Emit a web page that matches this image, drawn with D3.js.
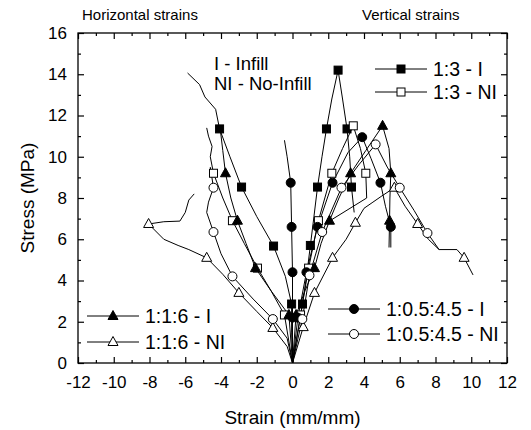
<!DOCTYPE html>
<html><head><meta charset="utf-8">
<script src="https://cdn.jsdelivr.net/npm/d3@7"></script>
<style>body{margin:0;background:#fff}svg{display:block}text{font-family:"Liberation Sans",Arial,sans-serif}</style>
</head><body><svg id="c" width="531" height="430"></svg>
<script>
// ---- data ----
const xTicks = [-12,-10,-8,-6,-4,-2,0,2,4,6,8,10,12];
const yTicks = [0,2,4,6,8,10,12,14,16];
const seriesNames = ["1:3 - I","1:3 - NI","1:1:6 - I","1:1:6 - NI","1:0.5:4.5 - I","1:0.5:4.5 - NI"];
const seriesSymbols = ["square","square","triangle","triangle","circle","circle"];
const seriesFilled = [true,false,true,false,true,false];

// curves: horizontal (negative strain) and vertical (positive strain) branches
const s13I_H = [[0,0],[-0.05,1.5],[-0.05,2.86],[-0.4,4.2],[-1.06,5.67],[-2.0,7.1],[-2.85,8.53],[-3.5,10],[-4.08,11.35],[-4.3,12.3],[-4.9,12.9],[-5.2,13.5],[-5.87,14.06]];
const s13I_V = [[0,0],[0.3,1.5],[0.56,2.86],[0.8,4.3],[1.0,5.7],[1.2,7.1],[1.4,8.53],[1.65,10],[1.9,11.35],[2.2,12.8],[2.55,14.2],[2.8,12.8],[3.05,11.35],[3.2,10],[3.3,8.53],[3.45,7.3]];
const s13I_M = [[-0.05,2.86],[-1.06,5.67],[-2.85,8.53],[-4.08,11.35],[0.56,2.86],[1.0,5.7],[1.4,8.53],[1.9,11.35],[2.55,14.2],[3.05,11.35],[3.3,8.53]];

const s13NI_H = [[0,0],[-0.45,2.33],[-1.2,3.5],[-1.96,4.6],[-2.7,5.8],[-3.36,6.9],[-3.9,8.0],[-4.42,9.2],[-4.6,10],[-4.5,10.5],[-4.7,11.0],[-4.8,11.4]];
const s13NI_V = [[0,0],[0.45,2.33],[0.9,4.6],[1.45,6.9],[2.2,9.2],[2.8,10.4],[3.4,11.5],[3.8,10.4],[4.1,9.2],[4.15,8.0],[2.1,6.9]];
const s13NI_M = [[-0.45,2.33],[-1.96,4.6],[-3.36,6.9],[-4.42,9.2],[0.45,2.33],[0.9,4.6],[1.45,6.9],[2.2,9.2],[3.4,11.5],[4.1,9.2]];

const s116I_H = [[0,0],[-0.2,2.33],[-1.2,3.5],[-2.07,4.6],[-2.6,5.8],[-3.08,6.9],[-3.45,8.0],[-3.75,9.2],[-3.9,10.3],[-4.05,11.4]];
const s116I_V = [[0,0],[0.2,2.33],[0.7,3.5],[1.23,4.6],[1.6,5.8],[2.07,6.9],[2.6,8.0],[3.25,9.2],[4.1,10.3],[5.04,11.5],[5.4,10.4],[5.5,9.2],[5.45,8.0],[5.43,6.9],[5.4,5.6]];
const s116I_M = [[-0.2,2.33],[-2.07,4.6],[-3.08,6.9],[-3.75,9.2],[0.2,2.33],[1.23,4.6],[2.07,6.9],[3.25,9.2],[5.04,11.5],[5.5,9.2],[5.43,6.9]];

const s116NI_H = [[0,0],[-0.3,0.8],[-1.1,1.7],[-2.0,2.5],[-3.0,3.4],[-3.9,4.3],[-4.8,5.1],[-5.8,5.5],[-6.4,5.7],[-7.2,6.0],[-8.05,6.74],[-7.2,6.85],[-6.3,6.88],[-6.0,7.3],[-5.8,7.9],[-5.5,8.2]];
const s116NI_V = [[0,0],[0.6,1.74],[1.23,3.4],[2.24,5.1],[3.0,6.0],[3.52,6.8],[4.0,7.5],[4.5,7.8],[5.0,8.1],[5.7,8.5],[6.3,7.6],[7.0,6.74],[7.6,6.0],[8.2,5.5],[9.2,5.5],[9.6,5.1],[10.1,4.27]];
const s116NI_M = [[-1.1,1.7],[-3.0,3.4],[-4.8,5.1],[-8.05,6.74],[0.6,1.74],[1.23,3.4],[2.24,5.1],[3.52,6.8],[5.7,8.5],[7.0,6.74],[9.6,5.1]];

const s105I_H = [[0,0],[0,2.2],[0,4.4],[-0.05,6.6],[-0.1,8.74],[-0.3,10],[-0.45,10.8]];
const s105I_V = [[0,0],[0.3,2.2],[0.78,4.4],[1.4,6.6],[2.24,8.74],[3.1,10.2],[3.9,10.95],[4.4,9.9],[4.92,8.74],[5.2,7.6],[5.5,6.6],[5.5,5.6]];
const s105I_M = [[0,2.2],[0,4.4],[-0.05,6.6],[-0.1,8.74],[0.3,2.2],[0.78,4.4],[1.4,6.6],[2.24,8.74],[3.9,10.95],[4.92,8.74],[5.5,6.6]];

const s105NI_H = [[0,0],[-0.3,1.2],[-1.1,2.13],[-2.2,3.1],[-3.36,4.2],[-4.0,5.3],[-4.42,6.35],[-4.8,7.3],[-4.7,7.8],[-4.42,8.5],[-4.6,9.5]];
const s105NI_V = [[0,0],[0.55,2.13],[0.95,4.25],[1.66,6.35],[2.74,8.5],[3.7,9.6],[4.65,10.6],[5.3,9.5],[6.0,8.5],[6.8,7.4],[7.55,6.3],[8.2,5.5]];
const s105NI_M = [[-1.1,2.13],[-3.36,4.2],[-4.42,6.35],[-4.42,8.5],[0.55,2.13],[0.95,4.25],[1.66,6.35],[2.74,8.5],[4.65,10.6],[6.0,8.5],[7.55,6.3]];

const curves = [[s13I_H,s13I_V],[s13NI_H,s13NI_V],[s116I_H,s116I_V],[s116NI_H,s116NI_V],[s105I_H,s105I_V],[s105NI_H,s105NI_V]];
const markers = [s13I_M,s13NI_M,s116I_M,s116NI_M,s105I_M,s105NI_M];

// ---- chart ----
const svg = d3.select("#c");
const L=78,R=507,T=33,B=363;
const x = d3.scaleLinear().domain([-12,12]).range([L,R]);
const y = d3.scaleLinear().domain([0,16]).range([B,T]);
const F='"Liberation Sans",Arial,sans-serif';
const fmt = d=>String(d);

const line = d3.line().x(d=>x(d[0])).y(d=>y(d[1]));
const g = svg.append("g");

function sym(sel, type, filled, cx, cy){
  let s;
  if(type==="square") s = sel.append("rect").attr("x",cx-4).attr("y",cy-4).attr("width",8).attr("height",8);
  else if(type==="circle") s = sel.append("circle").attr("cx",cx).attr("cy",cy).attr("r",4.5);
  else s = sel.append("path").attr("d",`M${cx},${cy-5.5}L${cx+5},${cy+3.5}L${cx-5},${cy+3.5}Z`);
  s.attr("fill",filled?"#000":"#fff").attr("stroke","#000").attr("stroke-width",1);
}

curves.forEach((cs,i)=>{
  cs.forEach(c=>g.append("path").attr("d",line(c)).attr("fill","none").attr("stroke","#000").attr("stroke-width",1));
});
markers.forEach((ms,i)=>{
  ms.forEach(m=>sym(g,seriesSymbols[i],seriesFilled[i],x(m[0]),y(m[1])));
});

// frame & axes (ticks inward)
svg.append("rect").attr("x",L).attr("y",T).attr("width",R-L).attr("height",B-T).attr("fill","none").attr("stroke","#000").attr("stroke-width",1.3);
const xb = svg.append("g").attr("transform",`translate(0,${B})`).call(d3.axisBottom(x).tickValues(xTicks).tickSize(-6).tickFormat(fmt));
svg.append("g").attr("transform",`translate(0,${B})`).call(d3.axisBottom(x).tickValues(d3.range(-11,12,2)).tickSize(-3).tickFormat(""));
svg.append("g").attr("transform",`translate(0,${T})`).call(d3.axisTop(x).tickValues(xTicks).tickSize(-6).tickFormat(""));
svg.append("g").attr("transform",`translate(0,${T})`).call(d3.axisTop(x).tickValues(d3.range(-11,12,2)).tickSize(-3).tickFormat(""));
const yl = svg.append("g").attr("transform",`translate(${L},0)`).call(d3.axisLeft(y).tickValues(yTicks).tickSize(-6).tickFormat(fmt));
svg.append("g").attr("transform",`translate(${L},0)`).call(d3.axisLeft(y).tickValues(d3.range(1,16,2)).tickSize(-3).tickFormat(""));
svg.append("g").attr("transform",`translate(${R},0)`).call(d3.axisRight(y).tickValues(yTicks).tickSize(-6).tickFormat(""));
svg.append("g").attr("transform",`translate(${R},0)`).call(d3.axisRight(y).tickValues(d3.range(1,16,2)).tickSize(-3).tickFormat(""));
svg.selectAll(".domain").remove();
svg.selectAll(".tick line").attr("stroke","#000").attr("stroke-width",1.2);
xb.selectAll("text").attr("font-family",F).attr("font-size",17).attr("fill","#000").attr("dy","0.71em").attr("y",13);
yl.selectAll("text").attr("font-family",F).attr("font-size",17).attr("fill","#000").attr("x",-11);

// labels
svg.append("text").attr("x",x(0)).attr("y",424).attr("text-anchor","middle").attr("font-size",19).text("Strain (mm/mm)");
svg.append("text").attr("transform",`translate(34,${(T+B)/2}) rotate(-90)`).attr("text-anchor","middle").attr("font-size",19).text("Stress (MPa)");
svg.append("text").attr("x",82).attr("y",20).attr("font-size",15).text("Horizontal strains");
svg.append("text").attr("x",362).attr("y",20).attr("font-size",15).text("Vertical strains");
svg.append("text").attr("x",214).attr("y",64).attr("dy","0.35em").attr("font-size",18.5).text("I - Infill");
svg.append("text").attr("x",214).attr("y",84).attr("dy","0.35em").attr("font-size",18.5).text("NI - No-Infill");

// legends
const legPos = [[375,69],[375,92],[87,316],[87,342],[328,309],[328,334]];
seriesNames.forEach((n,i)=>{
  const [lx,ly]=legPos[i];
  svg.append("line").attr("x1",lx).attr("x2",lx+52).attr("y1",ly).attr("y2",ly).attr("stroke","#000");
  sym(svg,seriesSymbols[i],seriesFilled[i],lx+26,ly);
  svg.append("text").attr("x",lx+58).attr("y",ly).attr("dy","0.35em").attr("font-size",19.5).text(n);
});
</script></body></html>
